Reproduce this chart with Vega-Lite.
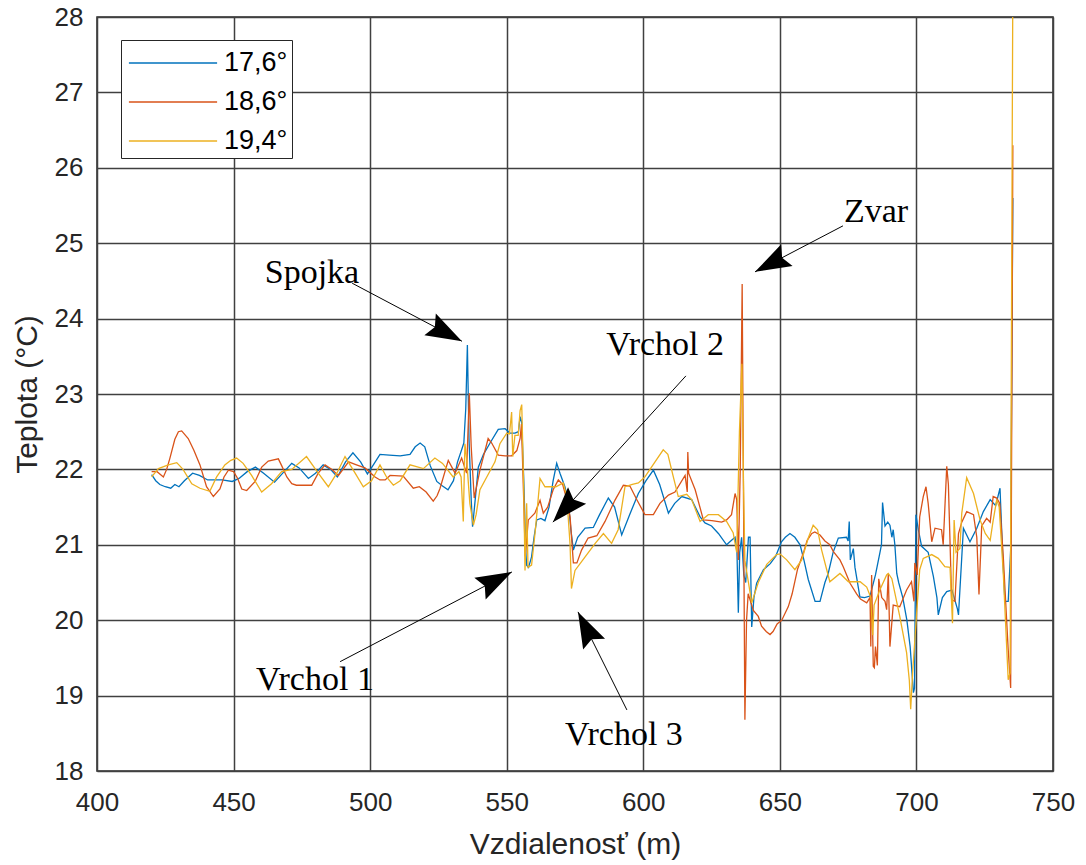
{
  "$schema": "https://vega.github.io/schema/vega-lite/v6.json",
  "width": 956,
  "height": 754,
  "autosize": {"type": "none"},
  "padding": {"left": 97, "top": 17, "right": 33, "bottom": 94},
  "background": "white",
  "config": {
    "view": {"stroke": "#262626", "strokeWidth": 1.5},
    "axis": {
      "labelFont": "Liberation Sans", "labelFontSize": 26, "labelColor": "#262626",
      "titleFont": "Liberation Sans", "titleFontSize": 30, "titleFontWeight": "normal", "titleColor": "#262626",
      "gridColor": "#404040", "gridWidth": 1.5, "gridOpacity": 1,
      "domain": false, "ticks": false, "labelOverlap": false, "labelFlush": false
    }
  },
  "datasets": {
    "temps": [
      {"s":"17,6°","d":420,"t":21.93},{"s":"17,6°","d":421.5,"t":21.85},{"s":"17,6°","d":423,"t":21.8},{"s":"17,6°","d":425,"t":21.77},{"s":"17,6°","d":427,"t":21.75},{"s":"17,6°","d":428.5,"t":21.8},{"s":"17,6°","d":430,"t":21.77},{"s":"17,6°","d":432,"t":21.85},{"s":"17,6°","d":435,"t":21.95},{"s":"17,6°","d":437.5,"t":21.92},{"s":"17,6°","d":440.5,"t":21.86},{"s":"17,6°","d":443,"t":21.86},{"s":"17,6°","d":445.8,"t":21.86},{"s":"17,6°","d":449.5,"t":21.84},{"s":"17,6°","d":452,"t":21.88},{"s":"17,6°","d":455,"t":21.97},{"s":"17,6°","d":458,"t":22.03},{"s":"17,6°","d":461,"t":21.95},{"s":"17,6°","d":465,"t":21.83},{"s":"17,6°","d":468,"t":21.95},{"s":"17,6°","d":471.3,"t":22.08},{"s":"17,6°","d":474,"t":22.02},{"s":"17,6°","d":477.4,"t":21.88},{"s":"17,6°","d":480,"t":21.95},{"s":"17,6°","d":482.8,"t":22.06},{"s":"17,6°","d":485.5,"t":22.0},{"s":"17,6°","d":488,"t":21.9},{"s":"17,6°","d":491,"t":22.1},{"s":"17,6°","d":493.7,"t":22.22},{"s":"17,6°","d":496.5,"t":22.1},{"s":"17,6°","d":499,"t":21.94},{"s":"17,6°","d":501,"t":22.05},{"s":"17,6°","d":503.6,"t":22.2},{"s":"17,6°","d":507,"t":22.19},{"s":"17,6°","d":511,"t":22.18},{"s":"17,6°","d":514.6,"t":22.2},{"s":"17,6°","d":516.5,"t":22.3},{"s":"17,6°","d":518.3,"t":22.35},{"s":"17,6°","d":520,"t":22.3},{"s":"17,6°","d":522,"t":22.05},{"s":"17,6°","d":524.4,"t":21.84},{"s":"17,6°","d":526.5,"t":21.78},{"s":"17,6°","d":528.5,"t":21.73},{"s":"17,6°","d":530.5,"t":21.85},{"s":"17,6°","d":532,"t":22.1},{"s":"17,6°","d":533.5,"t":22.26},{"s":"17,6°","d":534.3,"t":22.35},{"s":"17,6°","d":535.0,"t":22.8},{"s":"17,6°","d":535.6,"t":23.65},{"s":"17,6°","d":536.2,"t":22.4},{"s":"17,6°","d":537.0,"t":21.6},{"s":"17,6°","d":537.5,"t":21.24},{"s":"17,6°","d":538.2,"t":21.5},{"s":"17,6°","d":539.6,"t":22.03},{"s":"17,6°","d":541.5,"t":22.2},{"s":"17,6°","d":543.9,"t":22.35},{"s":"17,6°","d":546.9,"t":22.53},{"s":"17,6°","d":549.4,"t":22.54},{"s":"17,6°","d":551.2,"t":22.48},{"s":"17,6°","d":553,"t":22.48},{"s":"17,6°","d":554.3,"t":22.5},{"s":"17,6°","d":554.9,"t":22.7},{"s":"17,6°","d":555.5,"t":22.62},{"s":"17,6°","d":556.3,"t":21.8},{"s":"17,6°","d":557.0,"t":20.9},{"s":"17,6°","d":557.3,"t":20.73},{"s":"17,6°","d":558,"t":20.7},{"s":"17,6°","d":559.1,"t":20.84},{"s":"17,6°","d":560,"t":21.1},{"s":"17,6°","d":561,"t":21.33},{"s":"17,6°","d":562.5,"t":21.35},{"s":"17,6°","d":564,"t":21.32},{"s":"17,6°","d":565.5,"t":21.5},{"s":"17,6°","d":567,"t":21.85},{"s":"17,6°","d":568.3,"t":22.08},{"s":"17,6°","d":569.5,"t":21.95},{"s":"17,6°","d":571.3,"t":21.77},{"s":"17,6°","d":572.5,"t":21.6},{"s":"17,6°","d":573.5,"t":21.2},{"s":"17,6°","d":574.4,"t":20.93},{"s":"17,6°","d":576,"t":21.1},{"s":"17,6°","d":578.7,"t":21.22},{"s":"17,6°","d":581.7,"t":21.23},{"s":"17,6°","d":584,"t":21.4},{"s":"17,6°","d":587.2,"t":21.62},{"s":"17,6°","d":589.5,"t":21.5},{"s":"17,6°","d":592.1,"t":21.13},{"s":"17,6°","d":595,"t":21.4},{"s":"17,6°","d":598.2,"t":21.68},{"s":"17,6°","d":601,"t":21.85},{"s":"17,6°","d":603.7,"t":21.99},{"s":"17,6°","d":606,"t":21.8},{"s":"17,6°","d":609.2,"t":21.42},{"s":"17,6°","d":611.5,"t":21.55},{"s":"17,6°","d":614.1,"t":21.64},{"s":"17,6°","d":617.7,"t":21.6},{"s":"17,6°","d":620.8,"t":21.37},{"s":"17,6°","d":622.6,"t":21.29},{"s":"17,6°","d":625,"t":21.25},{"s":"17,6°","d":627.5,"t":21.15},{"s":"17,6°","d":630.5,"t":21.0},{"s":"17,6°","d":632,"t":21.05},{"s":"17,6°","d":633.6,"t":21.1},{"s":"17,6°","d":634.3,"t":20.9},{"s":"17,6°","d":634.8,"t":20.1},{"s":"17,6°","d":635.3,"t":20.9},{"s":"17,6°","d":636,"t":21.1},{"s":"17,6°","d":636.8,"t":20.6},{"s":"17,6°","d":637.5,"t":20.5},{"s":"17,6°","d":638.5,"t":21.1},{"s":"17,6°","d":639.1,"t":21.1},{"s":"17,6°","d":639.7,"t":19.91},{"s":"17,6°","d":640.5,"t":20.3},{"s":"17,6°","d":641.5,"t":20.49},{"s":"17,6°","d":643,"t":20.6},{"s":"17,6°","d":644,"t":20.67},{"s":"17,6°","d":645.2,"t":20.71},{"s":"17,6°","d":646.5,"t":20.75},{"s":"17,6°","d":648.5,"t":20.85},{"s":"17,6°","d":650.6,"t":21.04},{"s":"17,6°","d":652,"t":21.1},{"s":"17,6°","d":653.7,"t":21.15},{"s":"17,6°","d":655.5,"t":21.1},{"s":"17,6°","d":657.4,"t":21.0},{"s":"17,6°","d":658.8,"t":20.8},{"s":"17,6°","d":660.4,"t":20.54},{"s":"17,6°","d":662.9,"t":20.25},{"s":"17,6°","d":664.7,"t":20.25},{"s":"17,6°","d":666.5,"t":20.5},{"s":"17,6°","d":667.7,"t":20.62},{"s":"17,6°","d":669.5,"t":20.9},{"s":"17,6°","d":671.4,"t":21.09},{"s":"17,6°","d":674.4,"t":21.1},{"s":"17,6°","d":675.0,"t":21.05},{"s":"17,6°","d":675.4,"t":21.31},{"s":"17,6°","d":675.8,"t":20.8},{"s":"17,6°","d":676.9,"t":20.95},{"s":"17,6°","d":677.5,"t":20.7},{"s":"17,6°","d":679.3,"t":20.31},{"s":"17,6°","d":681,"t":20.3},{"s":"17,6°","d":683,"t":20.32},{"s":"17,6°","d":685,"t":20.6},{"s":"17,6°","d":686.6,"t":20.89},{"s":"17,6°","d":687.2,"t":21.0},{"s":"17,6°","d":687.6,"t":21.56},{"s":"17,6°","d":688.5,"t":21.25},{"s":"17,6°","d":689.5,"t":21.3},{"s":"17,6°","d":690.3,"t":21.26},{"s":"17,6°","d":691,"t":21.1},{"s":"17,6°","d":691.5,"t":21.2},{"s":"17,6°","d":692.1,"t":21.0},{"s":"17,6°","d":692.8,"t":20.62},{"s":"17,6°","d":693.5,"t":20.5},{"s":"17,6°","d":695,"t":20.3},{"s":"17,6°","d":696.5,"t":20.0},{"s":"17,6°","d":697.7,"t":19.65},{"s":"17,6°","d":698.9,"t":19.04},{"s":"17,6°","d":699.3,"t":19.1},{"s":"17,6°","d":699.8,"t":21.4},{"s":"17,6°","d":700.7,"t":21.2},{"s":"17,6°","d":701.9,"t":20.98},{"s":"17,6°","d":704.3,"t":20.9},{"s":"17,6°","d":706.2,"t":20.58},{"s":"17,6°","d":707.5,"t":20.3},{"s":"17,6°","d":708,"t":20.07},{"s":"17,6°","d":709.5,"t":20.3},{"s":"17,6°","d":711.1,"t":20.38},{"s":"17,6°","d":713,"t":20.4},{"s":"17,6°","d":715,"t":20.15},{"s":"17,6°","d":715.4,"t":20.07},{"s":"17,6°","d":717.2,"t":21.22},{"s":"17,6°","d":719.6,"t":21.04},{"s":"17,6°","d":722.1,"t":21.22},{"s":"17,6°","d":724.5,"t":21.44},{"s":"17,6°","d":727,"t":21.6},{"s":"17,6°","d":729,"t":21.52},{"s":"17,6°","d":730.6,"t":21.75},{"s":"17,6°","d":731.6,"t":20.84},{"s":"17,6°","d":732.4,"t":20.25},{"s":"17,6°","d":733.6,"t":20.25},{"s":"17,6°","d":734.5,"t":20.93},{"s":"17,6°","d":735.3,"t":25.6},

      {"s":"18,6°","d":420,"t":21.97},{"s":"18,6°","d":422,"t":21.97},{"s":"18,6°","d":424.3,"t":21.9},{"s":"18,6°","d":425.5,"t":22.0},{"s":"18,6°","d":426.7,"t":22.15},{"s":"18,6°","d":428.5,"t":22.4},{"s":"18,6°","d":429.8,"t":22.5},{"s":"18,6°","d":431,"t":22.51},{"s":"18,6°","d":433.4,"t":22.41},{"s":"18,6°","d":435.5,"t":22.25},{"s":"18,6°","d":437.7,"t":22.06},{"s":"18,6°","d":440.1,"t":21.77},{"s":"18,6°","d":442.6,"t":21.64},{"s":"18,6°","d":445,"t":21.74},{"s":"18,6°","d":446.5,"t":21.9},{"s":"18,6°","d":448.1,"t":21.99},{"s":"18,6°","d":450,"t":21.97},{"s":"18,6°","d":451.5,"t":21.88},{"s":"18,6°","d":453,"t":21.74},{"s":"18,6°","d":454.8,"t":21.72},{"s":"18,6°","d":457.9,"t":21.84},{"s":"18,6°","d":460.3,"t":22.03},{"s":"18,6°","d":462.7,"t":22.11},{"s":"18,6°","d":466.4,"t":22.14},{"s":"18,6°","d":467.6,"t":22.05},{"s":"18,6°","d":469.5,"t":21.9},{"s":"18,6°","d":471.3,"t":21.81},{"s":"18,6°","d":473,"t":21.79},{"s":"18,6°","d":478.6,"t":21.79},{"s":"18,6°","d":481,"t":21.95},{"s":"18,6°","d":483.5,"t":22.06},{"s":"18,6°","d":486,"t":22.0},{"s":"18,6°","d":488.4,"t":21.92},{"s":"18,6°","d":492.1,"t":22.1},{"s":"18,6°","d":495,"t":22.06},{"s":"18,6°","d":498.1,"t":22.02},{"s":"18,6°","d":501.8,"t":21.9},{"s":"18,6°","d":503.6,"t":21.86},{"s":"18,6°","d":505.5,"t":21.86},{"s":"18,6°","d":507.3,"t":21.92},{"s":"18,6°","d":512.1,"t":21.91},{"s":"18,6°","d":515.8,"t":21.75},{"s":"18,6°","d":518,"t":21.77},{"s":"18,6°","d":520.5,"t":21.7},{"s":"18,6°","d":523.1,"t":21.58},{"s":"18,6°","d":524.5,"t":21.65},{"s":"18,6°","d":525.6,"t":21.75},{"s":"18,6°","d":528.6,"t":22.12},{"s":"18,6°","d":531.1,"t":21.95},{"s":"18,6°","d":533.5,"t":22.15},{"s":"18,6°","d":535.3,"t":21.95},{"s":"18,6°","d":536.3,"t":23.01},{"s":"18,6°","d":537.0,"t":22.3},{"s":"18,6°","d":538.1,"t":21.62},{"s":"18,6°","d":540.2,"t":21.99},{"s":"18,6°","d":543.2,"t":22.41},{"s":"18,6°","d":544.5,"t":22.35},{"s":"18,6°","d":546.9,"t":22.19},{"s":"18,6°","d":549.4,"t":22.18},{"s":"18,6°","d":551.8,"t":22.18},{"s":"18,6°","d":553.7,"t":22.25},{"s":"18,6°","d":554.9,"t":22.41},{"s":"18,6°","d":555.4,"t":22.6},{"s":"18,6°","d":556.3,"t":21.5},{"s":"18,6°","d":556.8,"t":20.85},{"s":"18,6°","d":557.9,"t":21.33},{"s":"18,6°","d":560.3,"t":21.42},{"s":"18,6°","d":562.2,"t":21.59},{"s":"18,6°","d":563.4,"t":21.42},{"s":"18,6°","d":565,"t":21.5},{"s":"18,6°","d":567,"t":21.73},{"s":"18,6°","d":568.9,"t":21.86},{"s":"18,6°","d":570.5,"t":21.8},{"s":"18,6°","d":572,"t":21.6},{"s":"18,6°","d":573.2,"t":21.37},{"s":"18,6°","d":574.4,"t":20.76},{"s":"18,6°","d":575.7,"t":20.76},{"s":"18,6°","d":577.4,"t":20.93},{"s":"18,6°","d":579.8,"t":21.09},{"s":"18,6°","d":583,"t":21.12},{"s":"18,6°","d":586,"t":21.31},{"s":"18,6°","d":589.6,"t":21.59},{"s":"18,6°","d":592.7,"t":21.79},{"s":"18,6°","d":595.1,"t":21.78},{"s":"18,6°","d":597.6,"t":21.6},{"s":"18,6°","d":600.6,"t":21.4},{"s":"18,6°","d":603.7,"t":21.4},{"s":"18,6°","d":606.1,"t":21.55},{"s":"18,6°","d":609.2,"t":21.66},{"s":"18,6°","d":611.6,"t":21.7},{"s":"18,6°","d":615.3,"t":21.92},{"s":"18,6°","d":616.1,"t":21.7},{"s":"18,6°","d":616.3,"t":22.23},{"s":"18,6°","d":616.6,"t":21.95},{"s":"18,6°","d":619,"t":21.73},{"s":"18,6°","d":622,"t":21.33},{"s":"18,6°","d":625.1,"t":21.32},{"s":"18,6°","d":628.7,"t":21.3},{"s":"18,6°","d":630.5,"t":21.33},{"s":"18,6°","d":632.3,"t":21.4},{"s":"18,6°","d":633.6,"t":21.68},{"s":"18,6°","d":634.2,"t":21.6},{"s":"18,6°","d":634.8,"t":20.8},{"s":"18,6°","d":635.5,"t":22.0},{"s":"18,6°","d":636.2,"t":24.46},{"s":"18,6°","d":636.8,"t":21.0},{"s":"18,6°","d":637.2,"t":18.68},{"s":"18,6°","d":637.8,"t":20.0},{"s":"18,6°","d":638.4,"t":20.35},{"s":"18,6°","d":640.3,"t":20.13},{"s":"18,6°","d":642.1,"t":20.05},{"s":"18,6°","d":643.3,"t":19.92},{"s":"18,6°","d":645,"t":19.85},{"s":"18,6°","d":646.4,"t":19.81},{"s":"18,6°","d":647.5,"t":19.85},{"s":"18,6°","d":649,"t":19.95},{"s":"18,6°","d":650.7,"t":20.0},{"s":"18,6°","d":653.1,"t":20.18},{"s":"18,6°","d":654.5,"t":20.35},{"s":"18,6°","d":656.5,"t":20.68},{"s":"18,6°","d":658.6,"t":20.89},{"s":"18,6°","d":660,"t":21.06},{"s":"18,6°","d":661.7,"t":21.15},{"s":"18,6°","d":662.8,"t":21.17},{"s":"18,6°","d":664.7,"t":21.13},{"s":"18,6°","d":666.5,"t":21.05},{"s":"18,6°","d":668.3,"t":21.0},{"s":"18,6°","d":669.6,"t":20.91},{"s":"18,6°","d":672,"t":20.8},{"s":"18,6°","d":673.2,"t":20.71},{"s":"18,6°","d":675.7,"t":20.49},{"s":"18,6°","d":678.1,"t":20.35},{"s":"18,6°","d":679.5,"t":20.28},{"s":"18,6°","d":681.8,"t":20.23},{"s":"18,6°","d":683,"t":20.3},{"s":"18,6°","d":683.3,"t":19.65},{"s":"18,6°","d":683.6,"t":20.6},{"s":"18,6°","d":684.2,"t":19.39},{"s":"18,6°","d":684.6,"t":19.37},{"s":"18,6°","d":685,"t":19.65},{"s":"18,6°","d":685.7,"t":19.4},{"s":"18,6°","d":686.2,"t":20.55},{"s":"18,6°","d":687.3,"t":20.3},{"s":"18,6°","d":688.5,"t":20.25},{"s":"18,6°","d":689.1,"t":20.14},{"s":"18,6°","d":689.7,"t":20.62},{"s":"18,6°","d":690.3,"t":19.65},{"s":"18,6°","d":691.5,"t":20.2},{"s":"18,6°","d":693.9,"t":20.18},{"s":"18,6°","d":696.4,"t":20.4},{"s":"18,6°","d":698.2,"t":20.51},{"s":"18,6°","d":699.1,"t":20.25},{"s":"18,6°","d":699.4,"t":20.76},{"s":"18,6°","d":700.3,"t":20.6},{"s":"18,6°","d":701.2,"t":21.37},{"s":"18,6°","d":702.5,"t":21.64},{"s":"18,6°","d":703.5,"t":21.77},{"s":"18,6°","d":704.3,"t":21.55},{"s":"18,6°","d":705.6,"t":21.04},{"s":"18,6°","d":706.8,"t":21.22},{"s":"18,6°","d":709.2,"t":21.2},{"s":"18,6°","d":709.8,"t":21.0},{"s":"18,6°","d":711.1,"t":22.04},{"s":"18,6°","d":711.7,"t":21.8},{"s":"18,6°","d":712.9,"t":20.27},{"s":"18,6°","d":714.1,"t":20.25},{"s":"18,6°","d":715.4,"t":21.15},{"s":"18,6°","d":716.6,"t":21.3},{"s":"18,6°","d":718.4,"t":21.44},{"s":"18,6°","d":720.9,"t":21.4},{"s":"18,6°","d":722.1,"t":21.1},{"s":"18,6°","d":722.9,"t":20.34},{"s":"18,6°","d":723.9,"t":21.25},{"s":"18,6°","d":725.7,"t":21.35},{"s":"18,6°","d":727,"t":21.3},{"s":"18,6°","d":728.1,"t":21.64},{"s":"18,6°","d":729.4,"t":21.62},{"s":"18,6°","d":730.5,"t":21.55},{"s":"18,6°","d":731.8,"t":20.84},{"s":"18,6°","d":733.6,"t":19.61},{"s":"18,6°","d":734.5,"t":19.1},{"s":"18,6°","d":735.3,"t":26.3},

      {"s":"19,4°","d":420,"t":21.9},{"s":"19,4°","d":422.5,"t":22.01},{"s":"19,4°","d":426.1,"t":22.06},{"s":"19,4°","d":429.2,"t":22.09},{"s":"19,4°","d":431.5,"t":22.0},{"s":"19,4°","d":434.7,"t":21.81},{"s":"19,4°","d":437.7,"t":21.75},{"s":"19,4°","d":441.3,"t":21.71},{"s":"19,4°","d":443.8,"t":21.9},{"s":"19,4°","d":446.8,"t":22.06},{"s":"19,4°","d":449,"t":22.12},{"s":"19,4°","d":451.1,"t":22.15},{"s":"19,4°","d":453.5,"t":22.08},{"s":"19,4°","d":456.6,"t":21.92},{"s":"19,4°","d":460.3,"t":21.7},{"s":"19,4°","d":463.9,"t":21.81},{"s":"19,4°","d":467.6,"t":21.97},{"s":"19,4°","d":471.3,"t":22.0},{"s":"19,4°","d":476.7,"t":22.17},{"s":"19,4°","d":481,"t":21.95},{"s":"19,4°","d":484.7,"t":21.77},{"s":"19,4°","d":487.8,"t":21.95},{"s":"19,4°","d":490.8,"t":22.17},{"s":"19,4°","d":494.5,"t":21.95},{"s":"19,4°","d":497.5,"t":21.77},{"s":"19,4°","d":500.5,"t":21.85},{"s":"19,4°","d":503.6,"t":22.06},{"s":"19,4°","d":506,"t":21.9},{"s":"19,4°","d":508.5,"t":21.79},{"s":"19,4°","d":511,"t":21.85},{"s":"19,4°","d":514.6,"t":22.06},{"s":"19,4°","d":519.5,"t":22.01},{"s":"19,4°","d":523.7,"t":22.15},{"s":"19,4°","d":526.5,"t":22.08},{"s":"19,4°","d":530.4,"t":21.9},{"s":"19,4°","d":532.5,"t":21.97},{"s":"19,4°","d":533.3,"t":21.9},{"s":"19,4°","d":534.1,"t":21.31},{"s":"19,4°","d":534.7,"t":22.34},{"s":"19,4°","d":535.3,"t":22.15},{"s":"19,4°","d":536.5,"t":21.55},{"s":"19,4°","d":537.8,"t":21.26},{"s":"19,4°","d":538.8,"t":21.4},{"s":"19,4°","d":540.2,"t":21.73},{"s":"19,4°","d":542.7,"t":21.9},{"s":"19,4°","d":545.7,"t":22.1},{"s":"19,4°","d":547.5,"t":22.34},{"s":"19,4°","d":550,"t":22.48},{"s":"19,4°","d":551,"t":22.47},{"s":"19,4°","d":551.8,"t":22.76},{"s":"19,4°","d":552.2,"t":22.17},{"s":"19,4°","d":553,"t":22.45},{"s":"19,4°","d":554.2,"t":22.45},{"s":"19,4°","d":554.9,"t":22.78},{"s":"19,4°","d":555.5,"t":22.86},{"s":"19,4°","d":556.2,"t":21.8},{"s":"19,4°","d":556.7,"t":20.66},{"s":"19,4°","d":557.3,"t":21.55},{"s":"19,4°","d":557.8,"t":20.7},{"s":"19,4°","d":559.1,"t":20.73},{"s":"19,4°","d":560.5,"t":21.2},{"s":"19,4°","d":562.2,"t":21.88},{"s":"19,4°","d":564,"t":21.77},{"s":"19,4°","d":568,"t":21.77},{"s":"19,4°","d":570.7,"t":21.82},{"s":"19,4°","d":572,"t":21.64},{"s":"19,4°","d":573.2,"t":21.0},{"s":"19,4°","d":573.7,"t":20.42},{"s":"19,4°","d":575,"t":20.66},{"s":"19,4°","d":578.7,"t":20.84},{"s":"19,4°","d":582.4,"t":21.02},{"s":"19,4°","d":585.4,"t":21.15},{"s":"19,4°","d":588.4,"t":21.02},{"s":"19,4°","d":590.8,"t":21.2},{"s":"19,4°","d":593.3,"t":21.77},{"s":"19,4°","d":596,"t":21.8},{"s":"19,4°","d":598.2,"t":21.82},{"s":"19,4°","d":600.6,"t":21.9},{"s":"19,4°","d":604.3,"t":22.1},{"s":"19,4°","d":607.3,"t":22.26},{"s":"19,4°","d":609,"t":22.2},{"s":"19,4°","d":611,"t":21.9},{"s":"19,4°","d":612.8,"t":21.64},{"s":"19,4°","d":615.9,"t":21.67},{"s":"19,4°","d":617.7,"t":21.6},{"s":"19,4°","d":620.8,"t":21.31},{"s":"19,4°","d":623.8,"t":21.4},{"s":"19,4°","d":627.5,"t":21.4},{"s":"19,4°","d":630.5,"t":21.31},{"s":"19,4°","d":632.9,"t":21.16},{"s":"19,4°","d":634.2,"t":20.9},{"s":"19,4°","d":635.2,"t":22.5},{"s":"19,4°","d":636.1,"t":23.4},{"s":"19,4°","d":636.7,"t":21.8},{"s":"19,4°","d":637.2,"t":20.79},{"s":"19,4°","d":638.5,"t":20.5},{"s":"19,4°","d":639.7,"t":20.23},{"s":"19,4°","d":642.1,"t":20.5},{"s":"19,4°","d":645.2,"t":20.74},{"s":"19,4°","d":648.8,"t":20.87},{"s":"19,4°","d":650,"t":20.88},{"s":"19,4°","d":652.5,"t":20.8},{"s":"19,4°","d":655.5,"t":20.67},{"s":"19,4°","d":658,"t":20.8},{"s":"19,4°","d":660.4,"t":21.09},{"s":"19,4°","d":662.2,"t":21.26},{"s":"19,4°","d":663.8,"t":21.2},{"s":"19,4°","d":665.3,"t":20.93},{"s":"19,4°","d":668.3,"t":20.51},{"s":"19,4°","d":672,"t":20.62},{"s":"19,4°","d":675.1,"t":20.51},{"s":"19,4°","d":679.4,"t":20.51},{"s":"19,4°","d":681.8,"t":20.44},{"s":"19,4°","d":683.3,"t":20.3},{"s":"19,4°","d":684.0,"t":19.8},{"s":"19,4°","d":684.5,"t":20.2},{"s":"19,4°","d":686.6,"t":20.4},{"s":"19,4°","d":689.1,"t":20.6},{"s":"19,4°","d":689.7,"t":20.62},{"s":"19,4°","d":691,"t":20.55},{"s":"19,4°","d":693.9,"t":20.05},{"s":"19,4°","d":696.4,"t":19.57},{"s":"19,4°","d":697.4,"t":19.2},{"s":"19,4°","d":697.9,"t":18.82},{"s":"19,4°","d":698.6,"t":19.3},{"s":"19,4°","d":700,"t":20.05},{"s":"19,4°","d":701.2,"t":20.67},{"s":"19,4°","d":702.5,"t":20.82},{"s":"19,4°","d":705.6,"t":20.87},{"s":"19,4°","d":708,"t":20.82},{"s":"19,4°","d":710.4,"t":20.71},{"s":"19,4°","d":712.3,"t":20.7},{"s":"19,4°","d":713.2,"t":19.96},{"s":"19,4°","d":713.8,"t":21.33},{"s":"19,4°","d":714.5,"t":20.9},{"s":"19,4°","d":715.9,"t":20.95},{"s":"19,4°","d":716.6,"t":21.42},{"s":"19,4°","d":718.4,"t":21.89},{"s":"19,4°","d":720.9,"t":21.68},{"s":"19,4°","d":723.3,"t":21.33},{"s":"19,4°","d":725.2,"t":21.15},{"s":"19,4°","d":727,"t":21.06},{"s":"19,4°","d":728,"t":21.3},{"s":"19,4°","d":729.4,"t":21.6},{"s":"19,4°","d":730.3,"t":21.5},{"s":"19,4°","d":731.8,"t":20.62},{"s":"19,4°","d":733.6,"t":19.21},{"s":"19,4°","d":734.3,"t":19.3},{"s":"19,4°","d":735.3,"t":28.5}
    ],
    "ann": [
      {"lab":"Spojka","tx":478.7,"ty":24.6,"x":493.4,"y":24.47,"x2":533.6,"y2":23.7},
      {"lab":"Zvar","tx":685.2,"ty":25.41,"x":673.1,"y":25.23,"x2":640.9,"y2":24.62},
      {"lab":"Vrchol 2","tx":608.0,"ty":23.65,"x":615.6,"y":23.24,"x2":566.9,"y2":21.3},
      {"lab":"Vrchol 1","tx":479.8,"ty":19.21,"x":489.0,"y":19.45,"x2":551.9,"y2":20.64},
      {"lab":"Vrchol 3","tx":592.9,"ty":18.48,"x":594.0,"y":18.81,"x2":576.1,"y2":20.11}
    ]
  },
  "layer": [
    {
      "data": {"name": "temps"},
      "mark": {"type": "line", "strokeWidth": 1.3, "clip": true},
      "encoding": {
        "x": {"field": "d", "type": "quantitative",
              "scale": {"domain": [400, 750], "nice": false, "zero": false},
              "axis": {"title": "Vzdialenosť (m)", "values": [400,450,500,550,600,650,700,750], "format": "d", "labelPadding": 18, "titlePadding": 14}},
        "y": {"field": "t", "type": "quantitative",
              "scale": {"domain": [18, 28], "nice": false, "zero": false},
              "axis": {"title": "Teplota (°C)", "values": [18,19,20,21,22,23,24,25,26,27,28], "format": "d", "labelPadding": 14, "titlePadding": 12}},
        "color": {"field": "s", "type": "nominal",
                  "scale": {"domain": ["17,6°","18,6°","19,4°"], "range": ["#0072BD","#D95319","#EDB120"]},
                  "legend": {"title": null, "orient": "none", "legendX": 24, "legendY": 23,
                             "symbolType": "M-2.45,0H2.45", "symbolSize": 1296, "symbolStrokeWidth": 1.3,
                             "symbolOffset": 29, "labelOffset": 32, "labelFontSize": 27, "labelFont": "Liberation Sans",
                             "labelColor": "#000000", "padding": 4, "rowPadding": 7,
                             "strokeColor": "#262626", "fillColor": "white"}}
      }
    },
    {
      "data": {"name": "ann"},
      "mark": {"type": "rule", "color": "black", "strokeWidth": 1},
      "encoding": {
        "x": {"field": "x", "type": "quantitative"},
        "y": {"field": "y", "type": "quantitative"},
        "x2": {"field": "x2"},
        "y2": {"field": "y2"}
      }
    },
    {
      "data": {"name": "ann"},
      "transform": [{"calculate": "atan2((datum.x2 - datum.x) * 2.7314, (datum.y2 - datum.y) * 75.4) * 180 / PI", "as": "ang"}],
      "mark": {"type": "point", "shape": "M0,0L0.34,1L0,0.85L-0.34,1Z", "filled": true, "color": "black", "opacity": 1, "size": 5184, "strokeWidth": 0},
      "encoding": {
        "x": {"field": "x2", "type": "quantitative"},
        "y": {"field": "y2", "type": "quantitative"},
        "angle": {"field": "ang", "type": "quantitative", "scale": null}
      }
    },
    {
      "data": {"name": "ann"},
      "mark": {"type": "text", "font": "Liberation Serif", "fontSize": 34, "color": "black"},
      "encoding": {
        "x": {"field": "tx", "type": "quantitative"},
        "y": {"field": "ty", "type": "quantitative"},
        "text": {"field": "lab"}
      }
    }
  ]
}
